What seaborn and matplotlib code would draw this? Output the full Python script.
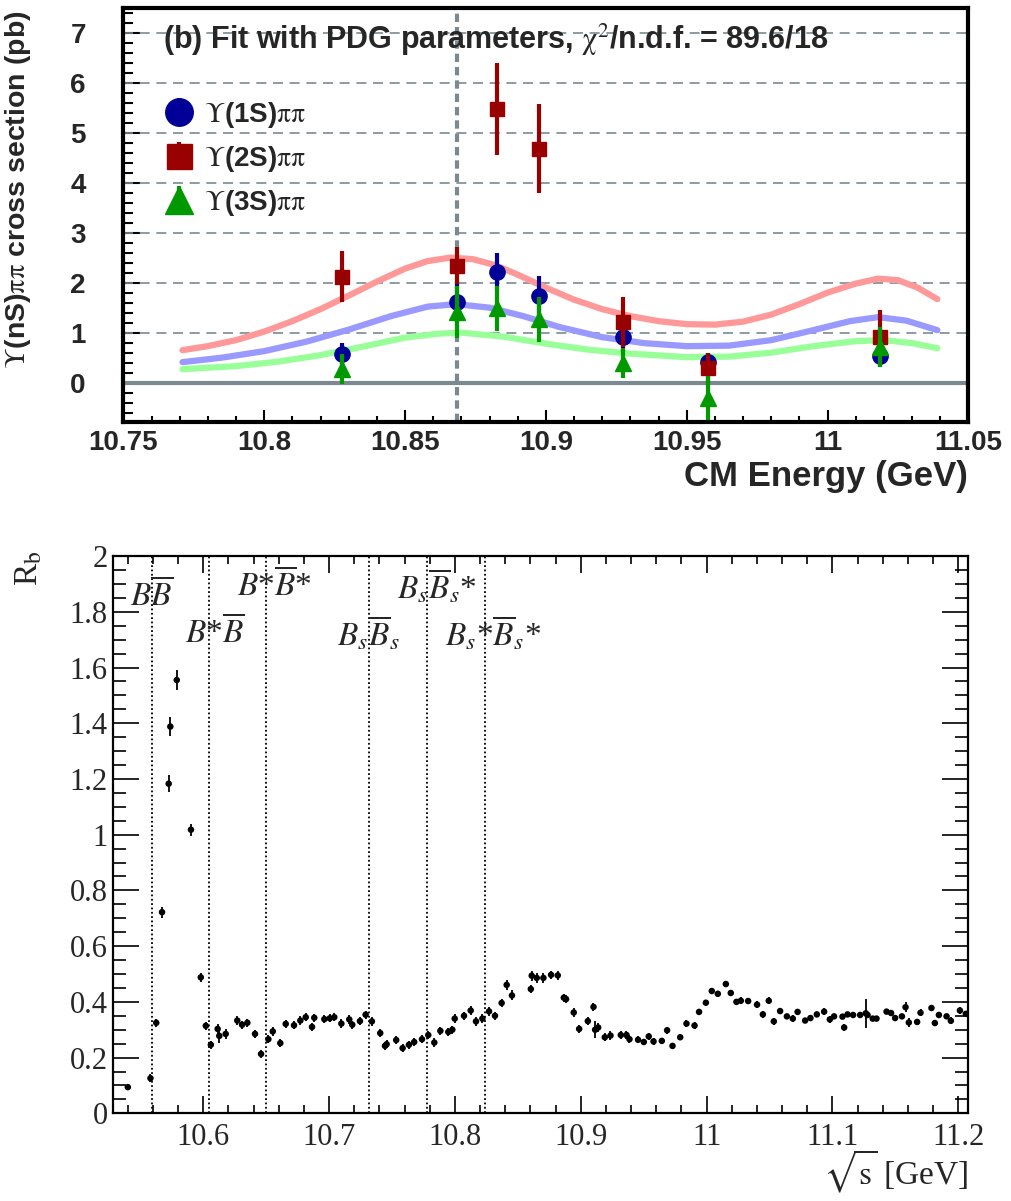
import numpy as np
import pandas as pd
import matplotlib
matplotlib.use("Agg")
import matplotlib.pyplot as plt
from matplotlib.ticker import MultipleLocator
import seaborn as sns

# ---------------- top panel: Y(nS)pipi cross sections ----------------
energy = [10.8277, 10.8685, 10.8827, 10.8975, 10.9275, 10.9575, 11.0185]

xs_1s = [0.57, 1.61, 2.22, 1.73, 0.92, 0.42, 0.53]
err_1s = [0.22, 0.40, 0.38, 0.41, 0.30, 0.18, 0.21]
xs_2s = [2.12, 2.34, 5.48, 4.68, 1.22, 0.30, 0.91]
err_2s = [0.51, 0.37, 0.92, 0.89, 0.50, 0.30, 0.54]
xs_3s = [0.27, 1.42, 1.49, 1.27, 0.40, -0.31, 0.72]
err_3s = [0.30, 0.52, 0.45, 0.45, 0.30, 0.44, 0.40]

# fit curves
fit_x_2s = [10.771, 10.780, 10.790, 10.800, 10.810, 10.820, 10.830, 10.840, 10.850, 10.858,
            10.866, 10.874, 10.882, 10.890, 10.900, 10.910, 10.920, 10.930, 10.940, 10.950,
            10.960, 10.970, 10.980, 10.990, 11.000, 11.010, 11.018, 11.025, 11.032, 11.039]
fit_2s = [0.65, 0.73, 0.85, 1.02, 1.23, 1.47, 1.74, 2.02, 2.28, 2.43,
          2.50, 2.47, 2.35, 2.16, 1.90, 1.66, 1.47, 1.33, 1.23, 1.17,
          1.16, 1.22, 1.36, 1.57, 1.80, 1.98, 2.08, 2.05, 1.90, 1.67]
fit_x_1s = [10.771, 10.785, 10.800, 10.815, 10.830, 10.845, 10.858, 10.868, 10.880, 10.892,
            10.905, 10.920, 10.935, 10.950, 10.965, 10.980, 10.995, 11.008, 11.018, 11.028,
            11.039]
fit_1s = [0.41, 0.50, 0.63, 0.82, 1.06, 1.33, 1.52, 1.57, 1.50, 1.33,
          1.11, 0.91, 0.79, 0.73, 0.74, 0.85, 1.05, 1.23, 1.31, 1.24,
          1.05]
fit_x_3s = [10.771, 10.790, 10.805, 10.820, 10.835, 10.850, 10.862, 10.870, 10.885, 10.900,
            10.915, 10.930, 10.950, 10.965, 10.980, 10.995, 11.010, 11.020, 11.030, 11.039]
fit_3s = [0.27, 0.33, 0.42, 0.55, 0.72, 0.90, 0.98, 1.00, 0.92, 0.78,
          0.66, 0.58, 0.51, 0.52, 0.60, 0.73, 0.83, 0.85, 0.79, 0.69]

peak_mass = 10.8685

top_xticks = [10.75, 10.8, 10.85, 10.9, 10.95, 11.0, 11.05]
top_xticklabels = ["10.75", "10.8", "10.85", "10.9", "10.95", "11", "11.05"]
top_yticks = [0, 1, 2, 3, 4, 5, 6, 7]
top_yticklabels = ["0", "1", "2", "3", "4", "5", "6", "7"]

# ---------------- bottom panel: R_b scan ----------------
thresholds = [10.559, 10.6045, 10.650, 10.732, 10.778, 10.824]
threshold_labels = [r"$B\overline{B}$", r"$B$*$\overline{B}$", r"$B$*$\overline{B}$*",
                    r"$B_s\overline{B}_s$", r"$B_s\overline{B}_s$*", r"$B_s$*$\overline{B}_s$*"]
label_x = [10.5417, 10.5854, 10.6266, 10.7060, 10.7537, 10.7921]
label_y = [1.857, 1.724, 1.893, 1.724, 1.893, 1.724]

rb_energy = [10.540, 10.558, 10.5626, 10.5672, 10.5725, 10.5738, 10.5789, 10.5902, 10.598, 10.602,
             10.606, 10.6114, 10.6127, 10.6178, 10.627, 10.6308, 10.635, 10.6411, 10.6459, 10.6517,
             10.6552, 10.6612, 10.6655, 10.6721, 10.6771, 10.6814, 10.6864, 10.6882, 10.6962, 10.7005,
             10.7041, 10.7097, 10.716, 10.7184, 10.7245, 10.729, 10.734, 10.7406, 10.7444, 10.7457,
             10.7533, 10.7584, 10.7634, 10.7676, 10.7738, 10.7788, 10.7836, 10.7884, 10.7947, 10.7979,
             10.7998, 10.8072, 10.8125, 10.8167, 10.8218, 10.8271, 10.8318, 10.8371, 10.8411, 10.8453,
             10.8603, 10.861, 10.865, 10.8703, 10.8764, 10.8817, 10.8865, 10.8883, 10.8944, 10.8987,
             10.9056, 10.9101, 10.9114, 10.9138, 10.9191, 10.9236, 10.9318, 10.9363, 10.9387, 10.9455,
             10.9501, 10.954, 10.9578, 10.9644, 10.9686, 10.9729, 10.979, 10.984, 10.9904, 10.994,
             10.9994, 11.0041, 11.0089, 11.0153, 11.0192, 11.0237, 11.0272, 11.033, 11.0401, 11.0447,
             11.0494, 11.0534, 11.0584, 11.0638, 11.0685, 11.0723, 11.0783, 11.0825, 11.0876, 11.0934,
             11.0979, 11.1013, 11.108, 11.1093, 11.112, 11.1164, 11.122, 11.1265, 11.1279, 11.132,
             11.135, 11.143, 11.1466, 11.1498, 11.1552, 11.1581, 11.1607, 11.1673, 11.170, 11.1787,
             11.1814, 11.1846, 11.1907, 11.1941, 11.2013, 11.206]
rb_value = [0.094, 0.126, 0.325, 0.722, 1.183, 1.388, 1.555, 1.018, 0.488, 0.314,
            0.246, 0.303, 0.278, 0.285, 0.333, 0.318, 0.325, 0.285, 0.213, 0.266,
            0.294, 0.252, 0.321, 0.316, 0.333, 0.345, 0.310, 0.343, 0.338, 0.341,
            0.345, 0.322, 0.337, 0.318, 0.331, 0.354, 0.330, 0.288, 0.242, 0.248,
            0.263, 0.234, 0.246, 0.256, 0.266, 0.281, 0.254, 0.296, 0.292, 0.300,
            0.340, 0.350, 0.369, 0.330, 0.340, 0.366, 0.350, 0.396, 0.461, 0.423,
            0.446, 0.494, 0.486, 0.486, 0.497, 0.495, 0.415, 0.410, 0.362, 0.303,
            0.331, 0.382, 0.300, 0.308, 0.273, 0.279, 0.281, 0.281, 0.266, 0.264,
            0.256, 0.276, 0.258, 0.260, 0.298, 0.242, 0.273, 0.322, 0.315, 0.364,
            0.397, 0.439, 0.429, 0.464, 0.432, 0.400, 0.404, 0.403, 0.390, 0.355,
            0.404, 0.330, 0.367, 0.348, 0.340, 0.364, 0.333, 0.342, 0.355, 0.365,
            0.337, 0.348, 0.347, 0.308, 0.355, 0.353, 0.353, 0.359, 0.353, 0.340,
            0.340, 0.365, 0.360, 0.342, 0.348, 0.381, 0.326, 0.328, 0.361, 0.378,
            0.324, 0.353, 0.348, 0.332, 0.369, 0.357]
rb_err = [0.008, 0.015, 0.015, 0.020, 0.031, 0.033, 0.036, 0.022, 0.015, 0.015,
          0.015, 0.018, 0.025, 0.018, 0.015, 0.015, 0.015, 0.015, 0.015, 0.015,
          0.015, 0.015, 0.015, 0.015, 0.015, 0.015, 0.015, 0.015, 0.015, 0.015,
          0.015, 0.015, 0.015, 0.015, 0.015, 0.015, 0.015, 0.015, 0.015, 0.015,
          0.015, 0.015, 0.015, 0.015, 0.015, 0.015, 0.015, 0.015, 0.015, 0.015,
          0.015, 0.015, 0.015, 0.015, 0.015, 0.015, 0.015, 0.015, 0.018, 0.018,
          0.015, 0.018, 0.018, 0.018, 0.015, 0.015, 0.015, 0.015, 0.015, 0.015,
          0.015, 0.015, 0.030, 0.015, 0.015, 0.015, 0.015, 0.015, 0.015, 0.012,
          0.012, 0.012, 0.012, 0.010, 0.012, 0.012, 0.010, 0.012, 0.012, 0.012,
          0.010, 0.010, 0.010, 0.012, 0.010, 0.010, 0.012, 0.012, 0.012, 0.012,
          0.012, 0.012, 0.012, 0.010, 0.012, 0.012, 0.010, 0.010, 0.010, 0.012,
          0.012, 0.010, 0.010, 0.012, 0.010, 0.010, 0.010, 0.052, 0.010, 0.010,
          0.010, 0.010, 0.012, 0.010, 0.010, 0.018, 0.015, 0.010, 0.012, 0.012,
          0.012, 0.010, 0.010, 0.012, 0.012, 0.010]

bot_xticks = [10.6, 10.7, 10.8, 10.9, 11.0, 11.1, 11.2]
bot_xticklabels = ["10.6", "10.7", "10.8", "10.9", "11", "11.1", "11.2"]
bot_yticks = [0, 0.2, 0.4, 0.6, 0.8, 1.0, 1.2, 1.4, 1.6, 1.8, 2.0]
bot_yticklabels = ["0", "0.2", "0.4", "0.6", "0.8", "1", "1.2", "1.4", "1.6", "1.8", "2"]

# ---------------- style ----------------
sns.set_style("ticks")
plt.rcParams["font.family"] = ["Liberation Sans", "DejaVu Sans"]
plt.rcParams["mathtext.fontset"] = "stix"

GREY = "#7a8a90"
SERIF = "Liberation Serif"

fig = plt.figure(figsize=(10.11, 12.01), dpi=100)
ax1 = fig.add_axes([0.1220, 0.6489, 0.8358, 0.3444])
ax2 = fig.add_axes([0.1121, 0.0730, 0.8457, 0.4640])

# ---- top panel ----
for yv in top_yticks[1:]:
    ax1.axhline(yv, color=GREY, lw=1.2, ls=(0, (6, 4)), zorder=1)
ax1.axhline(0, color=GREY, lw=3, zorder=1)
ax1.axvline(peak_mass, color=GREY, lw=3, ls=(0, (2, 1.2)), zorder=1)

sns.lineplot(x=fit_x_2s, y=fit_2s, ax=ax1, color="#ff9999", lw=4.5, zorder=2)
sns.lineplot(x=fit_x_1s, y=fit_1s, ax=ax1, color="#9999ff", lw=4.5, zorder=2)
sns.lineplot(x=fit_x_3s, y=fit_3s, ax=ax1, color="#99ff99", lw=4.5, zorder=2)

ax1.errorbar(energy, xs_1s, yerr=err_1s, fmt="o", color="#000099", ms=11,
             elinewidth=3, capsize=0, zorder=3, label=r"$\Upsilon$(1S)$\mathrm{\pi\pi}$")
ax1.errorbar(energy, xs_2s, yerr=err_2s, fmt="s", color="#990000", ms=10,
             elinewidth=3, capsize=0, zorder=4, label=r"$\Upsilon$(2S)$\mathrm{\pi\pi}$")
ax1.errorbar(energy, xs_3s, yerr=err_3s, fmt="^", color="#009900", ms=11,
             elinewidth=3, capsize=0, zorder=5, label=r"$\Upsilon$(3S)$\mathrm{\pi\pi}$")

ax1.set_xlim(10.75, 11.05)
ax1.set_ylim(-0.78, 7.49)
ax1.set_xticks(top_xticks, labels=top_xticklabels, fontweight="bold")
ax1.set_yticks(top_yticks, labels=top_yticklabels, fontweight="bold")
ax1.xaxis.set_minor_locator(MultipleLocator(0.01))
ax1.yaxis.set_minor_locator(MultipleLocator(0.2))
ax1.tick_params(which="both", direction="in", top=False, right=False,
                labelsize=20, width=1.5, color="black")
ax1.tick_params(axis="x", which="major", length=9, pad=6)
ax1.tick_params(axis="x", which="minor", length=4.5)
ax1.tick_params(axis="y", which="major", length=12, pad=27)
ax1.tick_params(axis="y", which="minor", length=7)
for sp in ax1.spines.values():
    sp.set_linewidth(3)
    sp.set_color("black")

ax1.set_xlabel("CM Energy (GeV)", fontsize=25, fontweight="bold", loc="right")
ax1.xaxis.set_label_coords(1.0, -0.092)
ax1.set_ylabel(r"$\Upsilon$(nS)$\mathrm{\pi\pi}$ cross section (pb)", fontsize=20.5,
               fontweight="bold", loc="top")
ax1.yaxis.set_label_coords(-0.107, 0.995)

ax1.text(0.047, 0.923, r"(b) Fit with PDG parameters, $\mathrm{\chi}^2$/n.d.f. = 89.6/18",
         transform=ax1.transAxes, fontsize=22, fontweight="bold", va="center", ha="left")

ax1.legend(loc="upper left", bbox_to_anchor=(0.035, 0.805), frameon=False,
           prop={"weight": "bold", "size": 20}, handlelength=1.1, handletextpad=0.35,
           labelspacing=0.5, borderaxespad=0, markerscale=1.8)

# ---- bottom panel ----
for xt in thresholds:
    ax2.axvline(xt, color="black", lw=1.3, ls=(0, (1, 1.4)), zorder=1)
for lab, lx, ly in zip(threshold_labels, label_x, label_y):
    ax2.text(lx, ly, lab, fontsize=24, ha="left", va="center", family=SERIF)

ax2.errorbar(rb_energy, rb_value, yerr=rb_err, fmt="none", ecolor="black",
             elinewidth=1.3, capsize=0, zorder=2)
sns.scatterplot(x=rb_energy, y=rb_value, ax=ax2, color="black", s=22,
                edgecolor="none", zorder=3)

ax2.set_xlim(10.5285, 11.208)
ax2.set_ylim(0, 2)
ax2.set_xticks(bot_xticks, labels=bot_xticklabels, family=SERIF)
ax2.set_yticks(bot_yticks, labels=bot_yticklabels, family=SERIF)
ax2.xaxis.set_minor_locator(MultipleLocator(0.02))
ax2.yaxis.set_minor_locator(MultipleLocator(0.05))
ax2.tick_params(which="both", direction="in", top=True, right=True,
                labelsize=22, width=1.2, color="black")
ax2.tick_params(axis="x", which="major", length=12, pad=7)
ax2.tick_params(axis="x", which="minor", length=6)
ax2.tick_params(axis="y", which="major", length=19, pad=4)
ax2.tick_params(axis="y", which="minor", length=9.5)
for sp in ax2.spines.values():
    sp.set_linewidth(1.6)
    sp.set_color("black")

ax2.set_xlabel(r"$\sqrt{\rm s}$ [GeV]", fontsize=24, family=SERIF, loc="right")
ax2.xaxis.set_label_coords(1.0, -0.062)
ax2.set_ylabel(r"R$_{\rm b}$", fontsize=24, family=SERIF, loc="top")
ax2.yaxis.set_label_coords(-0.08, 1.01)

fig.savefig("out.png", dpi=100)
